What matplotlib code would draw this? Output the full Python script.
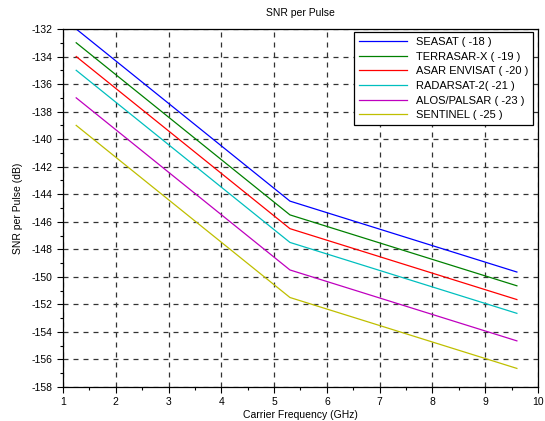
import matplotlib
matplotlib.use("Agg")
import matplotlib.pyplot as plt
from matplotlib.ticker import MultipleLocator

plt.rcParams['font.family'] = ['Liberation Sans', 'DejaVu Sans']

freq = [1.25, 5.3, 9.6]
names = ["SEASAT ( -18 )", "TERRASAR-X ( -19 )", "ASAR ENVISAT ( -20 )",
         "RADARSAT-2( -21 )", "ALOS/PALSAR ( -23 )", "SENTINEL ( -25 )"]
seasat = [-132.0, -144.5, -149.65]
terrasar = [-133.0, -145.5, -150.65]
asar = [-134.0, -146.5, -151.65]
radarsat = [-135.0, -147.5, -152.65]
alos = [-137.0, -149.5, -154.65]
sentinel = [-139.0, -151.5, -156.65]
series = [seasat, terrasar, asar, radarsat, alos, sentinel]
colors = ["#0000ff", "#008000", "#ff0000", "#00bfbf", "#bf00bf", "#bfbf00"]

fig = plt.figure(figsize=(5.45, 4.21), dpi=100)
ax = fig.add_axes([63/545, 1-387/421, 475/545, 358/421])

for vals, c, n in zip(series, colors, names):
    ax.plot(freq, vals, color=c, lw=0.9, label=n)

ax.set_xlim(1, 10)
ax.set_ylim(-158, -132)
ax.xaxis.set_major_locator(MultipleLocator(1))
ax.xaxis.set_minor_locator(MultipleLocator(0.5))
ax.yaxis.set_major_locator(MultipleLocator(2))
ax.yaxis.set_minor_locator(MultipleLocator(1))
ax.grid(True, which='major', color='#333333', ls=(0, (4, 4)), lw=0.9)
ax.tick_params(which='major', direction='out', length=4, width=0.8, labelsize=7.5, colors='black')
ax.tick_params(which='minor', direction='out', length=2, width=0.8)
ax.set_yticklabels([f"{int(v)}" for v in ax.get_yticks()])
for s in ax.spines.values():
    s.set_linewidth(0.9)

ax.set_xlabel("Carrier Frequency (GHz)", fontsize=7.5, labelpad=1.5)
ax.set_ylabel("SNR per Pulse (dB)", fontsize=7.5, labelpad=6)
ax.set_title("SNR per Pulse", fontsize=7.5, pad=9)

leg = ax.legend(loc='upper right', bbox_to_anchor=((533-63)/475, 1-(32-29)/358),
                fontsize=8, fancybox=False, framealpha=1, edgecolor='black',
                handlelength=4.3, handletextpad=0.8, borderpad=0.45, labelspacing=0.42,
                borderaxespad=0)
leg.get_frame().set_linewidth(0.9)

fig.savefig("out.png", dpi=100)
